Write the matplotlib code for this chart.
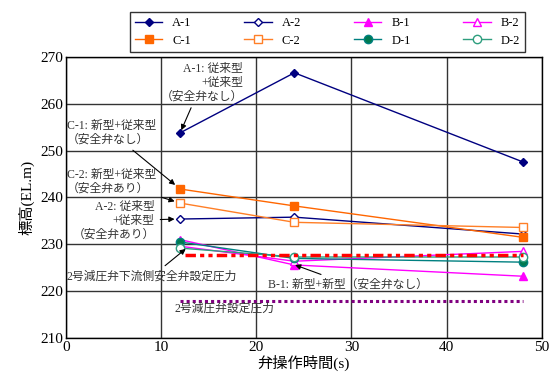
import matplotlib
matplotlib.use("Agg")
import matplotlib.pyplot as plt

plt.rcParams['font.family'] = ['Liberation Serif', 'Noto Sans CJK JP']

# data
TIMES = [12, 24, 48]
A1 = [253.8, 266.6, 247.6]
A2 = [235.4, 235.8, 232.2]
B1 = [231.0, 225.6, 223.2]
B2 = [229.6, 226.4, 228.5]
C1 = [241.8, 238.2, 231.5]
C2 = [238.8, 234.7, 233.6]
D1 = [230.5, 227.0, 226.2]
D2 = [229.2, 227.3, 227.3]

SAFETY_X = [12.5, 48]
SAFETY_Y = [227.8, 227.8]
REDUCER_X = [12, 48]
REDUCER_Y = [218, 218]

fig = plt.figure(figsize=(5.5, 3.74), dpi=100)
ax = fig.add_axes([0.12, 0.096, 0.865, 0.752])

#series
h = {}
h["A-1"], = ax.plot(TIMES, A1, color="#000080", lw=1, marker="D", ms=4.5, label="A-1")
h["A-2"], = ax.plot(TIMES, A2, color="#000080", lw=1, marker="D", ms=4.5, mfc="white", label="A-2")
h["B-1"], = ax.plot(TIMES, B1, color="#ff00ff", lw=1, marker="^", ms=6, label="B-1")
h["B-2"], = ax.plot(TIMES, B2, color="#ff00ff", lw=1, marker="^", ms=6, mfc="white", label="B-2")
h["C-1"], = ax.plot(TIMES, C1, color="#ff6600", lw=1, marker="s", ms=6, label="C-1")
h["C-2"], = ax.plot(TIMES, C2, color="#ff7f27", lw=1, marker="s", ms=6, mfc="white", label="C-2")
h["D-1"], = ax.plot(TIMES, D1, color="#008080", lw=1, marker="o", ms=6, mfc="#007a50", label="D-1")
h["D-2"], = ax.plot(TIMES, D2, color="#2e9e7e", lw=1, marker="o", ms=6, mfc="white", label="D-2")

#pressure settings
ax.plot(SAFETY_X, SAFETY_Y, color="#ff0000", lw=2.5, dashes=(3, 1.2, 1.2, 1.2, 1.2, 1.2))
ax.plot(REDUCER_X, REDUCER_Y, color="#800080", lw=2.2, dashes=(1, 1))

ax.set_xlim(0, 50)
ax.set_ylim(210, 270)
ax.set_xticks(range(0, 51, 10))
ax.set_yticks(range(210, 271, 10))
ax.grid(True, color="#333333", lw=1)
ax.tick_params(labelsize=11, length=0, pad=2)
for s in ax.spines.values():
    s.set_linewidth(1)
ax.set_xlabel("弁操作時間(s)", fontsize=11, labelpad=1)
ax.set_ylabel("標高(EL.m)", fontsize=11, labelpad=4)

#annotations
arrow = dict(arrowstyle="-|>", color="black", lw=0.8, mutation_scale=8)
kw = dict(fontsize=8.5, color="#333333", arrowprops=arrow)
ax.annotate("A-1: 従来型\n+従来型\n（安全弁なし）", xy=(12, 253.8), xytext=(14.3, 264.5),
            ha="center", va="center", multialignment="right", **kw)
ax.annotate("C-1: 新型+従来型\n（安全弁なし）", xy=(11.7, 242.3), xytext=(0.1, 253.8),
            ha="left", va="center", **kw)
ax.annotate("C-2: 新型+従来型\n（安全弁あり）", xy=(11.7, 239.0), xytext=(0.1, 243.3),
            ha="left", va="center", **kw)
ax.annotate("A-2: 従来型\n+従来型\n（安全弁あり）", xy=(11.7, 235.4), xytext=(5.0, 235.0),
            ha="center", va="center", multialignment="right", **kw)
ax.annotate("2号減圧弁下流側安全弁設定圧力", xy=(12.8, 229.4), xytext=(0.1, 223.2),
            ha="left", va="center", **kw)
ax.annotate("B-1: 新型+新型（安全弁なし）", xy=(23.8, 225.8), xytext=(21.2, 221.5),
            ha="left", va="center", **kw)
ax.text(11.4, 216.2, "2号減圧弁設定圧力", fontsize=8.5, color="#333333", va="center")

#legend in two rows of four
order = ["A-1", "C-1", "A-2", "C-2", "B-1", "D-1", "B-2", "D-2"]
leg = fig.legend([h[k] for k in order], order, ncol=4, loc="upper left",
                 bbox_to_anchor=(0.236, 0.866, 0.719, 0.102), mode="expand",
                 fontsize=9, frameon=True, fancybox=False, edgecolor="black",
                 handlelength=2.2, borderpad=0.4, labelspacing=0.45, columnspacing=1.0,
                 borderaxespad=0)
leg.get_frame().set_linewidth(1)

fig.savefig("out.png", dpi=100)
